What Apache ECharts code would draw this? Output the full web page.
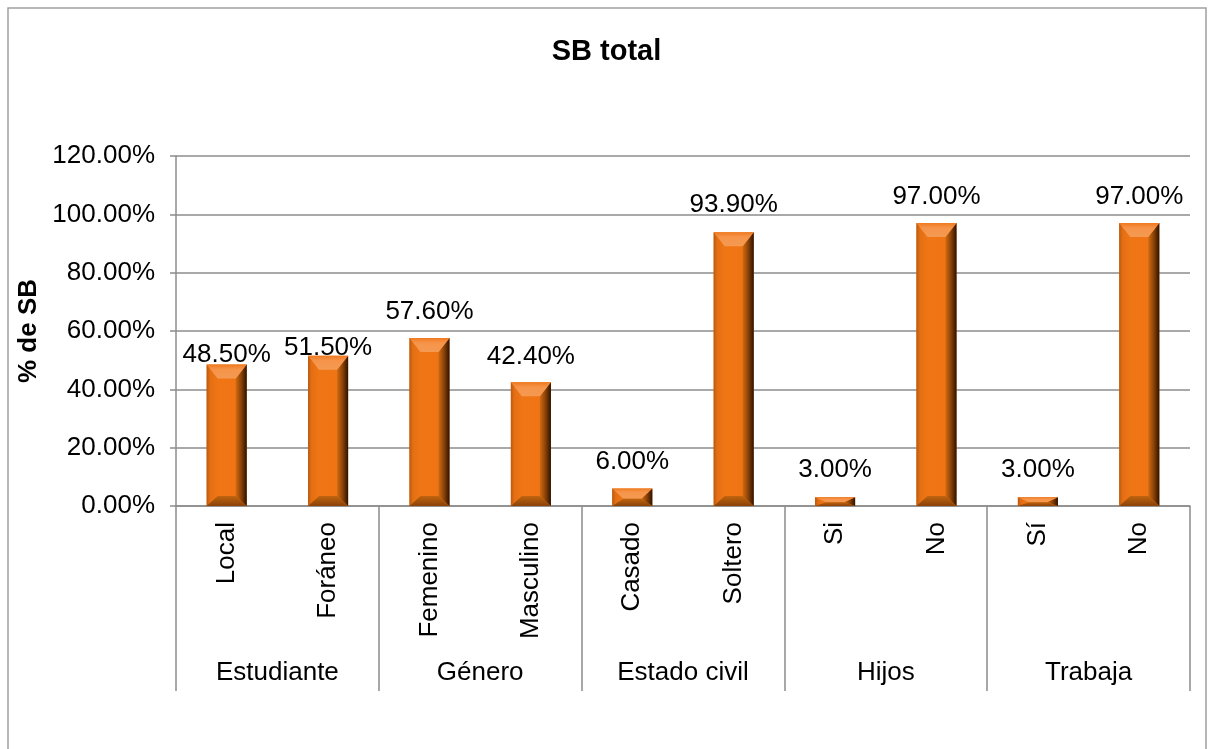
<!DOCTYPE html>
<html><head><meta charset="utf-8">
<script src="https://cdn.jsdelivr.net/npm/echarts@6/dist/echarts.min.js"></script>
<style>html,body{margin:0;padding:0;background:#fff}#c{width:1213px;height:749px}</style>
</head><body><div id="c"></div>
<script>
// ---- data ----
const categories = ['Local','Foráneo','Femenino','Masculino','Casado','Soltero','Si','No','Sí','No'];
const groups = ['Estudiante','Género','Estado civil','Hijos','Trabaja'];
const values = [48.5, 51.5, 57.6, 42.4, 6.0, 93.9, 3.0, 97.0, 3.0, 97.0];
const yTicks = [0, 20, 40, 60, 80, 100, 120];

// ---- style ----
const FONT = "'Liberation Sans', Arial, sans-serif";
const GRAY = '#8c8c8c';
const labelLift = [-3, -5, 13, 13, 14, 14, 14, 13, 14, 13];

const chart = echarts.init(document.getElementById('c'));

function renderBar(params, api) {
  const i = api.value(0), v = api.value(1);
  const top = api.coord([i, v]);
  const base = api.coord([i, 0]);
  const bw = api.size([1, 0])[0] * 0.395;
  const x0 = top[0] - bw / 2, x1 = top[0] + bw / 2;
  const y0 = top[1], y1 = base[1];
  const h = y1 - y0;
  let bt = 14, bb = 10, bl = 11, br = 11;
  const k = Math.min(1, h / (bt + bb));
  bt *= k; bb *= k; bl = Math.min(bl, bw / 2); br = Math.min(br, bw / 2);
  const children = [];
  children.push({type: 'rect', shape: {x: x0, y: y0, width: bw, height: h},
    style: {fill: new echarts.graphic.LinearGradient(0, 0, 1, 0, [
      {offset: 0, color: '#d8660e'}, {offset: 0.2, color: '#f07614'},
      {offset: 0.7, color: '#f07414'}, {offset: 1, color: '#d0640e'}])}});
  children.push({type: 'polygon', shape: {points: [[x0, y0], [x0 + bl, y0 + bt], [x0 + bl, y1 - bb], [x0, y1]]},
    style: {fill: new echarts.graphic.LinearGradient(0, 0, 1, 0, [
      {offset: 0, color: '#b85a10'}, {offset: 0.3, color: '#e46e12'}, {offset: 1, color: '#ee7616'}])}});
  children.push({type: 'polygon', shape: {points: [[x1, y0], [x1 - br, y0 + bt], [x1 - br, y1 - bb], [x1, y1]]},
    style: {fill: new echarts.graphic.LinearGradient(0, 0, 1, 0, [
      {offset: 0, color: '#d06a10'}, {offset: 0.5, color: '#8a4208'}, {offset: 1, color: '#2e1200'}])}});
  children.push({type: 'polygon', shape: {points: [[x0, y0], [x1, y0], [x1 - br, y0 + bt], [x0 + bl, y0 + bt]]},
    style: {fill: new echarts.graphic.LinearGradient(0, 0, 0, 1, [
      {offset: 0, color: '#f07a20'}, {offset: 0.35, color: '#f6944a'}, {offset: 1, color: '#f49a52'}])}});
  children.push({type: 'polygon', shape: {points: [[x0, y1], [x1, y1], [x1 - br, y1 - bb], [x0 + bl, y1 - bb]]},
    style: {fill: new echarts.graphic.LinearGradient(0, 0, 0, 1, [
      {offset: 0, color: '#c0640f'}, {offset: 1, color: '#8a4208'}])}});
  children.push({type: 'text', style: {
    text: v.toFixed(2) + '%', x: top[0], y: y0 - labelLift[params.dataIndex],
    align: 'center', verticalAlign: 'bottom', fill: '#000', font: '26px ' + FONT}});
  return {type: 'group', children};
}

chart.setOption({
  animation: false,
  backgroundColor: '#fff',
  textStyle: {fontFamily: FONT},
  title: {text: 'SB total', left: 'center', top: 32,
    textStyle: {fontFamily: FONT, fontSize: 29, fontWeight: 'bold', color: '#000'}},
  graphic: [{type: 'rect', shape: {x: 8, y: 8, width: 1198, height: 800},
    style: {fill: 'none', stroke: '#a0a0a0', lineWidth: 1.5}, silent: true}],
  grid: {left: 176, right: 23, top: 156, bottom: 243, containLabel: false, outerBoundsMode: 'none'},
  xAxis: [
    {type: 'category', data: categories, position: 'bottom',
      axisLine: {show: true, lineStyle: {color: GRAY, width: 1.5}},
      axisTick: {show: false},
      axisLabel: {interval: 0, rotate: 90, margin: 16, fontSize: 26, color: '#000', fontFamily: FONT}},
    {type: 'category', data: groups, position: 'bottom', offset: 0,
      axisLine: {show: false},
      axisTick: {show: true, interval: 0, length: 185, lineStyle: {color: GRAY, width: 1.5}},
      axisLabel: {interval: 0, margin: 154, fontSize: 26, color: '#000', fontFamily: FONT}}
  ],
  yAxis: {type: 'value', min: yTicks[0], max: yTicks[yTicks.length - 1], interval: yTicks[1] - yTicks[0],
    name: '% de SB', nameLocation: 'middle', nameRotate: 90, nameGap: 127,
    nameTextStyle: {fontFamily: FONT, fontSize: 26, fontWeight: 'bold', color: '#000'},
    axisLine: {show: true, lineStyle: {color: GRAY, width: 1.5}},
    axisTick: {show: true, length: 6, lineStyle: {color: GRAY, width: 1.5}},
    splitLine: {show: true, lineStyle: {color: GRAY, width: 1.5}},
    axisLabel: {margin: 21, fontSize: 26, color: '#000', fontFamily: FONT,
      formatter: v => v.toFixed(2) + '%'}},
  series: [{type: 'custom', xAxisIndex: 0, yAxisIndex: 0, renderItem: renderBar,
    encode: {x: 0, y: 1}, clip: false,
    data: values.map((v, i) => [i, v])}]
});
</script></body></html>
